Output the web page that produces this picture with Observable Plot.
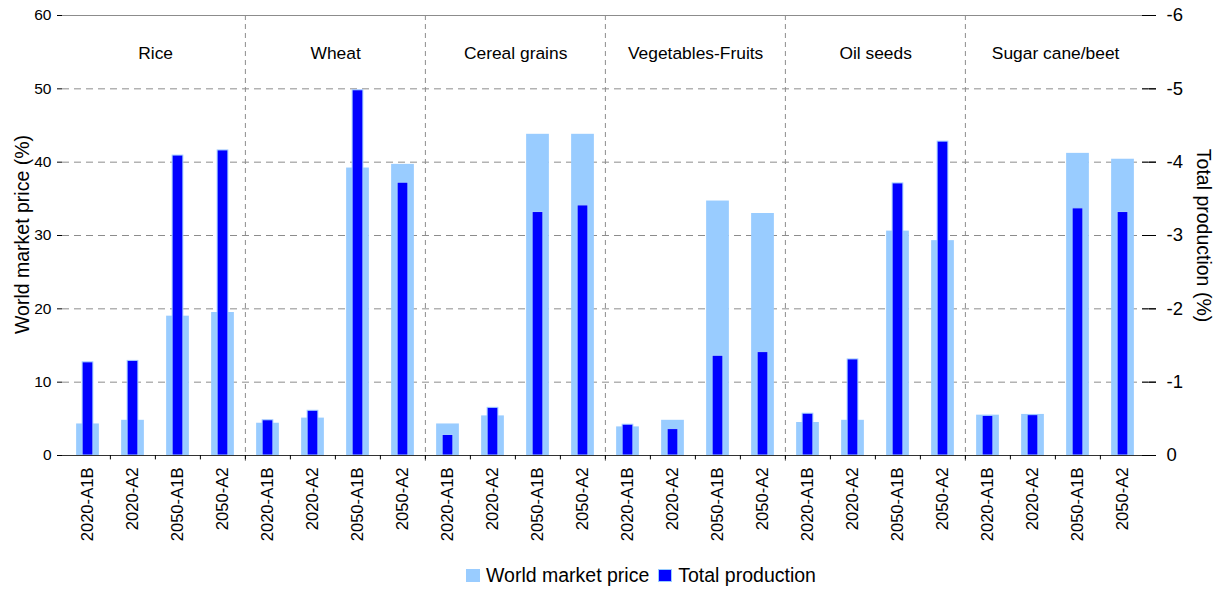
<!DOCTYPE html>
<html>
<head>
<meta charset="utf-8">
<script src="https://cdn.jsdelivr.net/npm/d3@7"></script>
<script src="https://cdn.jsdelivr.net/npm/@observablehq/plot@0.6"></script>
<style>
  html, body { margin: 0; padding: 0; background: white; }
  body { width: 1223px; height: 594px; position: relative; font-family: "Liberation Sans", Arial, sans-serif; }
  #legend { position: absolute; left: 466px; top: 564px; display: flex; align-items: center; font-size: 19.5px; color: #000; white-space: nowrap; }
  .sw { width: 14px; height: 13px; display: inline-block; box-sizing: border-box; }
  .lbl { margin-left: 6px; margin-right: 9px; }
</style>
</head>
<body>
<div id="chart"></div>
<div id="legend">
  <span class="sw" style="background:#99CCFF"></span><span class="lbl">World market price</span>
  <span class="sw" style="background:#0000FF;border:1px solid #99CCFF"></span><span class="lbl">Total production</span>
</div>
<script>
const groups = ["Rice", "Wheat", "Cereal grains", "Vegetables-Fruits", "Oil seeds", "Sugar cane/beet"];
const scenarios = ["2020-A1B", "2020-A2", "2050-A1B", "2050-A2"];

// World market price (%), left axis
const priceRice   = [4.3, 4.8, 19.0, 19.5];
const priceWheat  = [4.4, 5.1, 39.2, 39.7];
const priceCereal = [4.3, 5.4, 43.8, 43.8];
const priceVeg    = [3.9, 4.8, 34.7, 33.0];
const priceOil    = [4.5, 4.8, 30.6, 29.3];
const priceSugar  = [5.5, 5.6, 41.2, 40.4];

// Total production (%), right axis (0 to -6, inverted)
const prodRice   = [-1.27, -1.29, -4.09, -4.16];
const prodWheat  = [-0.48, -0.61, -4.98, -3.72];
const prodCereal = [-0.28, -0.65, -3.32, -3.41];
const prodVeg    = [-0.42, -0.36, -1.36, -1.41];
const prodOil    = [-0.57, -1.31, -3.71, -4.28];
const prodSugar  = [-0.54, -0.55, -3.37, -3.32];

const leftTicks = [0, 10, 20, 30, 40, 50, 60];
const rightTickLabels = ["0", "-1", "-2", "-3", "-4", "-5", "-6"];

const prices = [priceRice, priceWheat, priceCereal, priceVeg, priceOil, priceSugar];
const prods = [prodRice, prodWheat, prodCereal, prodVeg, prodOil, prodSugar];

const rows = [];
groups.forEach((g, gi) => scenarios.forEach((s, si) => {
  rows.push({key: g + "|" + s, group: g, scenario: s, price: prices[gi][si], prod: prods[gi][si]});
}));
const keys = rows.map(d => d.key);

const width = 1223, height = 550;
const marginLeft = 62, marginRight = 75, marginTop = 15, marginBottom = 95;
const bw = (width - marginLeft - marginRight) / keys.length;
const lightW = 23, darkW = 11;
const prodFactor = -10; // -6..0 on right maps onto 60..0 on left

const chart = Plot.plot({
  width, height, marginLeft, marginRight, marginTop, marginBottom,
  style: {fontFamily: "'Liberation Sans', Arial, sans-serif", color: "#000", background: "white", overflow: "visible"},
  x: {type: "band", domain: keys, padding: 0, axis: null},
  y: {domain: [0, 60], axis: null},
  marks: [
    Plot.gridY([10, 20, 30, 40, 50], {stroke: "#8c8c8c", strokeOpacity: 1, strokeDasharray: "7,5"}),
    Plot.ruleY([60], {stroke: "#8c8c8c"}),
    // group separators
    Plot.ruleX(groups.slice(1), {x: g => g + "|" + scenarios[0], dx: -bw / 2, y1: 60, y2: -1, stroke: "#8c8c8c", strokeDasharray: "5,4"}),
    // price bars
    Plot.barY(rows, {x: "key", y: "price", fill: "#99CCFF", insetLeft: (bw - lightW) / 2, insetRight: (bw - lightW) / 2}),
    // production bars
    Plot.barY(rows, {x: "key", y: d => d.prod * prodFactor, fill: "#0000FF", stroke: "#A6D0FF", strokeWidth: 1, insetLeft: (bw - darkW) / 2, insetRight: (bw - darkW) / 2}),
    Plot.ruleY([0], {stroke: "#333"}),
    // category ticks at band boundaries
    Plot.ruleX(keys.slice(1), {x: d => d, dx: -bw / 2, y1: 0, y2: -0.6, stroke: "#000"}),
    // x tick labels
    Plot.axisX({ticks: keys, tickRotate: -90, tickSize: 0, tickPadding: 12, fontSize: 16.6, tickFormat: d => d.split("|")[1], label: null}),
    // group labels
    Plot.text(groups, {x: g => g + "|" + scenarios[1], dx: bw / 2, frameAnchor: "top", dy: 31.5, text: d => d, fontSize: 17.4}),
    // left axis
    Plot.axisY({anchor: "left", ticks: leftTicks, tickSize: 5, tickPadding: 6, fontSize: 15.5, label: null, line: true}),
    // right axis
    Plot.axisY({anchor: "right", ticks: leftTicks, tickSize: 7, tickPadding: 11, fontSize: 18.5, label: null, line: true,
      tickFormat: d => rightTickLabels[leftTicks.indexOf(d)]}),
    Plot.axisY({anchor: "right", ticks: leftTicks, tickSize: 14, dx: -7, tickFormat: () => "", label: null}),
    // axis titles
    Plot.text(["World market price (%)"], {frameAnchor: "left", textAnchor: "middle", rotate: -90, dx: -40, dy: -1, text: d => d, fontSize: 19.5}),
    Plot.text(["Total production (%)"], {frameAnchor: "right", textAnchor: "middle", rotate: 90, dx: 55, text: d => d, fontSize: 19.5})
  ]
});
document.getElementById("chart").appendChild(chart);
</script>
</body>
</html>
